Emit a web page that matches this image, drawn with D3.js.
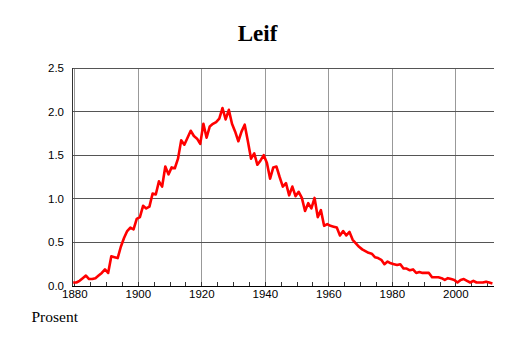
<!DOCTYPE html>
<html>
<head>
<meta charset="utf-8">
<script src="https://cdn.jsdelivr.net/npm/d3@7/dist/d3.min.js"></script>
<style>
html,body{margin:0;padding:0;background:#fff;}
svg{display:block;}
</style>
</head>
<body>
<script>
const startYear = 1880;
const values = [
 0.04,0.04,0.06,0.09,0.12,0.08,0.08,0.09,0.12,0.15,
 0.19,0.15,0.34,0.33,0.32,0.45,0.55,0.63,0.67,0.65,
 0.77,0.79,0.92,0.89,0.91,1.06,1.05,1.20,1.14,1.37,
 1.28,1.36,1.35,1.46,1.67,1.62,1.70,1.78,1.72,1.69,
 1.63,1.86,1.70,1.83,1.86,1.88,1.92,2.04,1.91,2.02,
 1.86,1.77,1.66,1.77,1.85,1.66,1.46,1.52,1.39,1.44,
 1.50,1.41,1.23,1.36,1.37,1.25,1.14,1.18,1.04,1.14,
 1.03,1.08,1.01,0.86,0.95,0.89,1.01,0.79,0.87,0.69,
 0.71,0.69,0.68,0.67,0.58,0.63,0.58,0.62,0.53,0.49,
 0.45,0.42,0.40,0.38,0.37,0.33,0.32,0.30,0.25,0.28,
 0.26,0.25,0.24,0.25,0.20,0.20,0.18,0.19,0.15,0.16,
 0.15,0.15,0.15,0.10,0.10,0.10,0.09,0.07,0.09,0.08,
 0.07,0.04,0.07,0.08,0.06,0.04,0.06,0.04,0.04,0.04,
 0.05,0.04,0.03
];
const years = values.map((v,i)=>startYear+i);
const yTicks = [0,0.5,1.0,1.5,2.0,2.5];
const xTicks = [1880,1900,1920,1940,1960,1980,2000];
const xMinorTicks = d3.range(1880, 2012, 5);
const title = "Leif";
const yLabel = "Prosent";

const W=514,H=343;
const svg=d3.select("body").append("svg").attr("width",W).attr("height",H);
const x=d3.scaleLinear().domain([1879.12,2012]).range([72,494]);
const y=d3.scaleLinear().domain([0,2.5]).range([286,68]);

// vertical grid
svg.append("g").selectAll("line").data(xTicks).join("line")
  .attr("x1",d=>x(d)).attr("x2",d=>x(d)).attr("y1",y(0)).attr("y2",y(2.5))
  .attr("stroke","#999").attr("stroke-width",1).attr("shape-rendering","crispEdges");
// horizontal grid
svg.append("g").selectAll("line").data(yTicks).join("line")
  .attr("x1",x.range()[0]).attr("x2",x.range()[1]).attr("y1",d=>y(d)).attr("y2",d=>y(d))
  .attr("stroke","#555").attr("stroke-width",1).attr("shape-rendering","crispEdges");
// minor ticks
svg.append("g").selectAll("line").data(xMinorTicks).join("line")
  .attr("x1",d=>x(d)).attr("x2",d=>x(d)).attr("y1",y(0)).attr("y2",y(0)-4)
  .attr("stroke","#333").attr("stroke-width",1).attr("shape-rendering","crispEdges");
// axes lines
svg.append("line").attr("x1",x.range()[0]).attr("x2",x.range()[0]).attr("y1",y(0)).attr("y2",y(2.5))
  .attr("stroke","#333").attr("shape-rendering","crispEdges");
svg.append("line").attr("x1",x.range()[0]).attr("x2",x.range()[1]).attr("y1",y(0)).attr("y2",y(0))
  .attr("stroke","#000").attr("shape-rendering","crispEdges");

// line
const line=d3.line().x((d,i)=>x(years[i]-0.5)).y(d=>y(d));
svg.append("path").datum(values).attr("d",line)
  .attr("fill","none").attr("stroke","#ff0000").attr("stroke-width",2.6).attr("stroke-linejoin","round");

// y labels
svg.append("g").selectAll("text").data(yTicks).join("text")
  .attr("x",64).attr("y",d=>y(d)).attr("dy","0.35em").attr("text-anchor","end")
  .attr("font-family","Liberation Sans, Arial, sans-serif").attr("font-size",11.5)
  .text(d=>d.toFixed(1));
// x labels
svg.append("g").selectAll("text").data(xTicks).join("text")
  .attr("x",d=>x(d)).attr("y",298).attr("text-anchor","middle")
  .attr("font-family","Liberation Sans, Arial, sans-serif").attr("font-size",11.5)
  .text(d=>d);
// title
svg.append("text").attr("x",257.5).attr("y",41).attr("text-anchor","middle")
  .attr("font-family","Liberation Serif, Times New Roman, serif").attr("font-weight","bold").attr("font-size",23)
  .text(title);
svg.append("text").attr("x",31.5).attr("y",321.5)
  .attr("font-family","Liberation Serif, Times New Roman, serif").attr("font-size",15.5)
  .text(yLabel);
</script>
</body>
</html>
